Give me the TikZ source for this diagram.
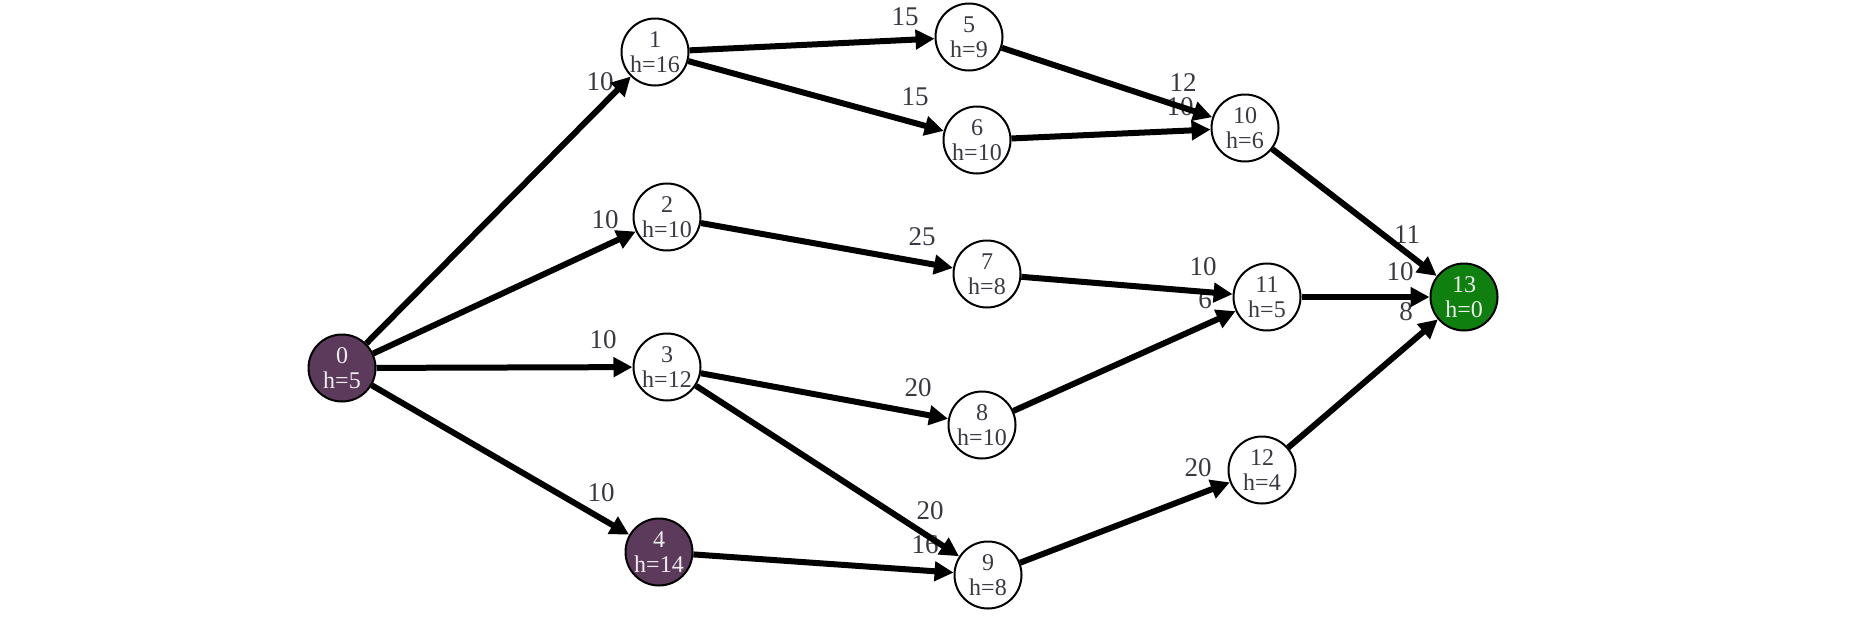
\documentclass[tikz,border=0pt]{standalone}
\usepackage{fontspec}
\setmainfont{Liberation Serif}
\usetikzlibrary{arrows.meta}
\definecolor{txt}{HTML}{3C3842}
\definecolor{purp}{HTML}{5C3A5B}
\definecolor{grn}{HTML}{0F7F0F}
\definecolor{lt}{HTML}{EEEEEE}
\begin{document}
\begin{tikzpicture}[x=1pt,y=-1pt,
 vtx/.style={circle, draw=black, line width=2pt, fill=white, minimum size=67pt, inner sep=0pt, outer sep=1pt, align=center, text=txt, font=\fontsize{24}{25}\selectfont},
 hot/.style={vtx, fill=purp, text=lt},
 goal/.style={vtx, fill=grn, text=lt},
 wlab/.style={inner sep=0pt, text=txt, font=\fontsize{27}{27}\selectfont},
 conn/.style={line width=6pt, -{Triangle[length=19pt,width=19pt]}}
]
\useasboundingbox[fill=white] (0,0) rectangle (1868,622);
% edge labels (drawn first, edges pass over them)
\node[wlab] (l01) at (600,82) {10};
\node[wlab] (l02) at (605,220) {10};
\node[wlab] (l03) at (603,340) {10};
\node[wlab] (l04) at (601,493) {10};
\node[wlab] (l15) at (905,17) {15};
\node[wlab] (l16) at (915,97) {15};
\node[wlab] (l27) at (922,237) {25};
\node[wlab] (l38) at (918,388) {20};
\node[wlab] (l39) at (930,511) {20};
\node[wlab] (l49) at (925,545) {16};
\node[wlab] (l510) at (1183,83) {12};
\node[wlab] (l610) at (1180,107) {10};
\node[wlab] (l711) at (1203,267) {10};
\node[wlab] (l811) at (1205,300) {6};
\node[wlab] (l912) at (1198,468) {20};
\node[wlab] (l1013) at (1407,235) {11};
\node[wlab] (l1113) at (1400,272) {10};
\node[wlab] (l1213) at (1406,312) {8};
% vertices
\node[hot]  (n0)  at (342,368)  {0\\h=5};
\node[vtx]  (n1)  at (655,52)   {1\\h=16};
\node[vtx]  (n2)  at (667,217)  {2\\h=10};
\node[vtx]  (n3)  at (667,367)  {3\\h=12};
\node[hot]  (n4)  at (659,552)  {4\\h=14};
\node[vtx]  (n5)  at (969,37)   {5\\h=9};
\node[vtx]  (n6)  at (977,140)  {6\\h=10};
\node[vtx]  (n7)  at (987,274)  {7\\h=8};
\node[vtx]  (n8)  at (982,425)  {8\\h=10};
\node[vtx]  (n9)  at (988,575)  {9\\h=8};
\node[vtx]  (n10) at (1245,128) {10\\h=6};
\node[vtx]  (n11) at (1267,297) {11\\h=5};
\node[vtx]  (n12) at (1262,470) {12\\h=4};
\node[goal] (n13) at (1464,297) {13\\h=0};
% edges
\draw[conn] (n0) -- (n1);
\draw[conn] (n0) -- (n2);
\draw[conn] (n0) -- (n3);
\draw[conn] (n0) -- (n4);
\draw[conn] (n1) -- (n5);
\draw[conn] (n1) -- (n6);
\draw[conn] (n2) -- (n7);
\draw[conn] (n3) -- (n8);
\draw[conn] (n3) -- (n9);
\draw[conn] (n4) -- (n9);
\draw[conn] (n5) -- (n10);
\draw[conn] (n6) -- (n10);
\draw[conn] (n7) -- (n11);
\draw[conn] (n8) -- (n11);
\draw[conn] (n9) -- (n12);
\draw[conn] (n10) -- (n13);
\draw[conn] (n11) -- (n13);
\draw[conn] (n12) -- (n13);
\end{tikzpicture}
\end{document}
